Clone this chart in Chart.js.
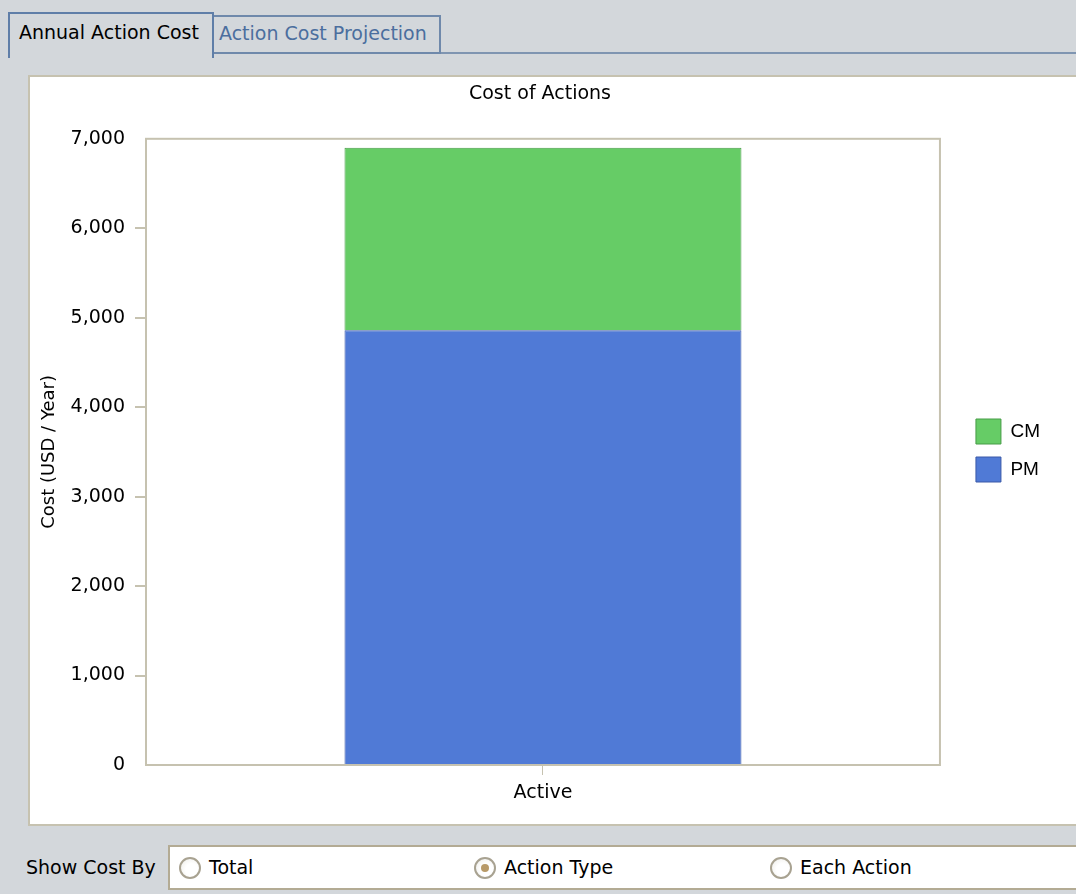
<!DOCTYPE html>
<html>
<head>
<meta charset="utf-8">
<script src="https://cdn.jsdelivr.net/npm/chart.js@4/dist/chart.umd.min.js"></script>
<style>
  html, body { margin: 0; padding: 0; }
  body { width: 1076px; height: 894px; background: #d3d7db; position: relative; overflow: hidden;
         font-family: "DejaVu Sans", sans-serif; font-size: 19px; color: #000; }
  .tab { position: absolute; box-sizing: border-box; white-space: nowrap; }
  #tab1 { left: 8px; top: 12px; width: 206px; height: 46px; border: 2px solid #5f7ea8; border-bottom: none;
          background: #d3d7db; padding: 7px 0 0 9px; z-index: 2; }
  #tab2 { left: 212px; top: 15px; width: 229px; height: 39px; border: 2px solid #6f89ab;
          color: #4b6e9e; padding: 5px 0 0 5px; }
  #tabline { position: absolute; left: 440px; top: 52px; width: 636px; height: 2px; background: #7f95b1; }
  #panel { position: absolute; left: 28px; top: 75px; width: 1060px; height: 751px; box-sizing: border-box;
           background: #fff; border: 2px solid #c6c2b0; }
  #chartbox { position: absolute; left: 30px; top: 77px; width: 1022px; height: 747px; }
  #showby { position: absolute; left: 26px; top: 856px; white-space: nowrap; }
  #group { position: absolute; left: 168px; top: 845px; width: 930px; height: 45px; box-sizing: border-box;
           background: #fff; border: 2px solid #b3ab94; }
  .radio { position: absolute; top: 857px; width: 22px; height: 22px; box-sizing: border-box; border-radius: 50%;
           border: 2px solid #a8a291; background: radial-gradient(circle at 60% 60%, #ffffff 40%, #ecebe6 100%); }
  .radio.sel::after { content: ""; position: absolute; left: 5px; top: 5px; width: 8px; height: 8px; border-radius: 50%;
           background: #b89a68; }
  .rlabel { position: absolute; top: 856px; white-space: nowrap; }
</style>
</head>
<body>
<div id="panel"></div>
<div id="tabline"></div>
<div class="tab" id="tab1">Annual Action Cost</div>
<div class="tab" id="tab2">Action Cost Projection</div>
<div id="chartbox"><canvas id="c"></canvas></div>
<div id="showby">Show Cost By</div>
<div id="group"></div>
<div class="radio" style="left:179px"></div><div class="rlabel" style="left:209px">Total</div>
<div class="radio sel" style="left:474px"></div><div class="rlabel" style="left:504px">Action Type</div>
<div class="radio" style="left:770px"></div><div class="rlabel" style="left:800px">Each Action</div>
<script>
const categories = ['Active'];
const seriesNames = ['PM', 'CM'];
const pmValues = [4860];
const cmValues = [2040];
const yTicks = [0, 1000, 2000, 3000, 4000, 5000, 6000, 7000];

const FONT = "'DejaVu Sans', sans-serif";
const plotBorder = {
  id: 'plotBorder',
  beforeDatasetsDraw(chart) {
    const {ctx, chartArea: a} = chart;
    ctx.save();
    ctx.strokeStyle = '#c6c2b0';
    ctx.lineWidth = 2;
    ctx.strokeRect(a.left, a.top, a.right - a.left, a.bottom - a.top);
    ctx.restore();
  }
};

new Chart(document.getElementById('c'), {
  type: 'bar',
  data: {
    labels: categories,
    datasets: [
      { label: seriesNames[0], data: pmValues, backgroundColor: '#507ad6', borderColor: '#3a59a8', borderWidth: 1,
        categoryPercentage: 0.5, barPercentage: 1.0 },
      { label: seriesNames[1], data: cmValues, backgroundColor: '#66cc66', borderColor: '#479c47', borderWidth: 1,
        categoryPercentage: 0.5, barPercentage: 1.0 }
    ]
  },
  options: {
    responsive: true,
    maintainAspectRatio: false,
    animation: false,
    layout: { padding: { left: 0, right: 2, top: 0, bottom: 0 } },
    plugins: {
      title: { display: true, text: 'Cost of Actions', color: '#000',
               font: { family: FONT, size: 19, weight: 'normal' }, padding: { top: 6, bottom: 33 } },
      legend: { position: 'right', reverse: true,
                labels: { boxWidth: 25, boxHeight: 25, padding: 13, color: '#000',
                          font: { family: "'Liberation Sans', Arial, sans-serif", size: 19 } } },
      tooltip: { enabled: false }
    },
    scales: {
      x: {
        stacked: true,
        grid: { display: true, drawOnChartArea: false, drawTicks: true, tickLength: 10, offset: false,
                color: '#c6c2b0', lineWidth: 1 },
        border: { display: false },
        ticks: { color: '#000', padding: 7, font: { family: FONT, size: 19 } },
        afterFit(s) { s.height = 59; }
      },
      y: {
        stacked: true,
        min: yTicks[0], max: yTicks[yTicks.length - 1],
        afterBuildTicks(s) { s.ticks = yTicks.map(v => ({ value: v })); },
        grid: { display: true, drawOnChartArea: false, drawTicks: true, tickLength: 11,
                color: ctx => (ctx.tick && (ctx.tick.value === yTicks[0] || ctx.tick.value === yTicks[yTicks.length - 1])) ? 'rgba(0,0,0,0)' : '#c6c2b0',
                lineWidth: 2 },
        border: { display: false },
        ticks: { color: '#000', padding: 10, font: { family: FONT, size: 19 },
                 callback: v => Number(v).toLocaleString('en-US') },
        title: { display: true, text: 'Cost (USD / Year)', color: '#000',
                 font: { family: FONT, size: 18 }, padding: { top: 9, bottom: 9 } },
        afterFit(s) { s.width = 116; }
      },
      spacer: {
        type: 'linear', position: 'right', display: true,
        grid: { display: false }, border: { display: false }, ticks: { display: false },
        afterFit(s) { s.width = 23; }
      }
    }
  },
  plugins: [plotBorder]
});
</script>
</body>
</html>
